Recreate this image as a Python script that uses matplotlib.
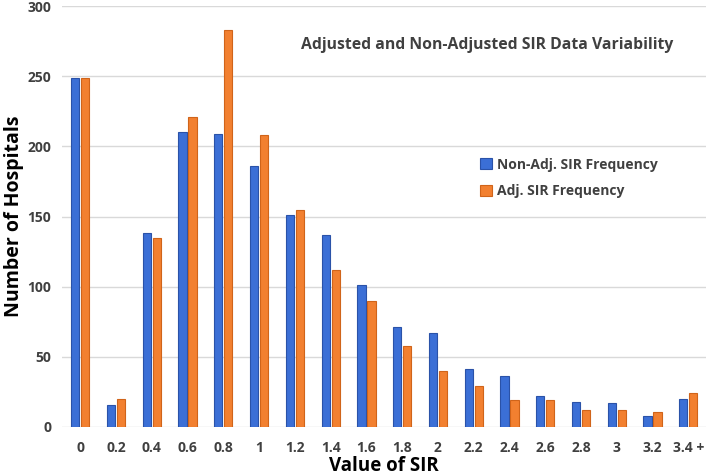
import numpy as np
import matplotlib.pyplot as plt

categories = ['0', '0.2', '0.4', '0.6', '0.8', '1', '1.2', '1.4', '1.6', '1.8',
              '2', '2.2', '2.4', '2.6', '2.8', '3', '3.2', '3.4 +']
non_adj = [249, 16, 138, 210, 209, 186, 151, 137, 101, 71, 67, 41, 36, 22, 18, 17, 8, 20]
adj = [249, 20, 135, 221, 283, 208, 155, 112, 90, 58, 40, 29, 19, 19, 12, 12, 11, 24]

plt.rcParams['font.family'] = ['Open Sans', 'DejaVu Sans']

fig = plt.figure(figsize=(7.09, 4.76), dpi=100)
ax = fig.add_axes([0.088, 0.103, 0.908, 0.884])

x = np.arange(len(categories))
w = 0.23
ax.bar(x - 0.14, non_adj, w, color='#3b6fd6', edgecolor='#2a52a8', linewidth=0.8,
       label='Non-Adj. SIR Frequency', zorder=3)
ax.bar(x + 0.14, adj, w, color='#f28030', edgecolor='#d0641a', linewidth=0.8,
       label='Adj. SIR Frequency', zorder=3)

ax.set_ylim(0, 300)
ax.set_yticks(range(0, 301, 50))
ax.set_xlim(-0.5, len(categories) - 0.5)
ax.set_xticks(x)
ax.set_xticklabels(categories)
ax.grid(axis='y', color='#d9d9d9', linewidth=1, zorder=0)
for s in ax.spines.values():
    s.set_visible(False)
ax.tick_params(axis='x', length=0, labelsize=10, labelcolor='#404040', pad=10)
ax.tick_params(axis='y', length=0, labelsize=10, labelcolor='#404040', pad=8)
for t in ax.get_xticklabels() + ax.get_yticklabels():
    t.set_fontweight('bold')

ax.set_xlabel('Value of SIR', fontsize=13.5, fontweight='bold', labelpad=1)
ax.set_ylabel('Number of Hospitals', fontsize=14, fontweight='bold')
ax.yaxis.set_label_coords(-0.06, 0.5)

ax.text(0.66, 0.907, 'Adjusted and Non-Adjusted SIR Data Variability',
        transform=ax.transAxes, ha='center', va='center', fontsize=11.3,
        fontweight='bold', color='#404040')

ax.legend(loc='upper left', bbox_to_anchor=(0.63, 0.67), frameon=False,
          handlelength=0.8, handleheight=0.8, handletextpad=0.4,
          labelspacing=0.9, prop={'weight': 'bold', 'size': 10},
          labelcolor='#404040')

fig.savefig('out.png', dpi=100)
